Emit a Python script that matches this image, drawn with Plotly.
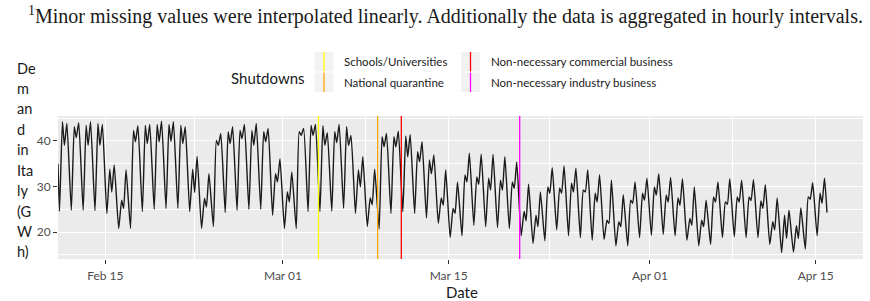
import plotly.graph_objects as go
import pandas as pd

# ---------------- data ----------------
start_date = "2020-02-11"
sample_hours = [3, 9, 13, 18]          # hour of night low, morning peak, midday dip, evening peak
first_value = 35.0                      # 2020-02-11 00:00
last_value = 24.3                       # 2020-04-15 23:00

night_low = [24.6, 24.8, 24.8, 24.7, 24.1, 20.8, 20.8, 24.5, 25.0, 25.2, 25.2, 24.5, 20.8,
             21.2, 24.3, 24.8, 25.0, 25.0, 23.7, 20.8, 20.8, 24.5, 24.5, 24.6, 25.2, 24.1,
             21.2, 20.7, 24.1, 24.5, 24.1, 23.1, 21.9, 18.8, 19.2, 21.5, 21.2, 21.0, 20.8,
             19.2, 17.5, 18.1, 20.5, 19.2, 18.8, 18.2, 18.4, 17.0, 17.0, 18.8, 19.3, 19.5,
             19.2, 18.2, 17.0, 17.3, 18.8, 19.0, 18.8, 18.8, 17.3, 15.5, 15.6, 16.3, 19.2]
morning_peak = [44.2, 43.1, 43.4, 43.8, 33.8, 27.0, 42.3, 43.4, 43.6, 43.6, 43.4, 33.8, 27.4,
                40.1, 42.0, 42.3, 42.3, 42.0, 32.8, 28.8, 42.0, 43.4, 43.3, 42.0, 43.1, 33.6,
                27.5, 40.9, 40.9, 41.1, 37.6, 35.8, 27.5, 25.2, 32.5, 32.1, 31.8, 31.4, 31.0,
                24.5, 23.7, 29.9, 29.7, 30.7, 29.2, 28.5, 22.6, 22.3, 27.0, 28.5, 29.9, 28.1,
                27.5, 23.0, 22.6, 27.7, 26.6, 27.7, 27.7, 26.8, 22.3, 23.7, 21.4, 27.7, 28.5]
midday_dip = [39.0, 40.7, 39.0, 39.0, 28.8, 25.2, 39.8, 39.4, 39.8, 39.9, 39.4, 28.7, 25.5,
              39.0, 39.4, 40.5, 39.0, 39.8, 31.0, 26.6, 41.2, 41.2, 39.0, 39.6, 39.0, 29.9,
              26.0, 38.7, 38.7, 36.5, 35.4, 32.8, 25.9, 24.1, 31.0, 30.5, 29.2, 29.2, 29.6,
              22.5, 21.2, 28.5, 28.5, 28.8, 28.8, 26.6, 21.9, 21.2, 26.3, 27.0, 28.1, 26.6,
              25.9, 21.5, 21.2, 26.6, 26.1, 26.6, 26.9, 25.2, 20.5, 18.6, 18.6, 27.2, 26.3]
evening_peak = [43.8, 44.0, 44.2, 43.6, 34.7, 33.6, 43.3, 43.6, 44.3, 44.2, 43.1, 36.6, 32.8,
                41.6, 43.1, 43.6, 43.8, 42.7, 36.1, 33.2, 42.7, 43.6, 41.8, 43.6, 41.2, 36.5,
                33.8, 41.6, 42.1, 41.4, 39.8, 36.9, 33.6, 31.0, 37.3, 37.1, 37.0, 36.5, 35.4,
                30.5, 28.8, 34.1, 34.5, 34.0, 33.6, 32.6, 31.4, 28.2, 31.0, 31.8, 32.8, 32.0,
                31.7, 29.9, 27.0, 31.0, 31.7, 31.4, 31.5, 30.4, 27.5, 24.8, 25.3, 30.8, 31.8]

shutdown_names = ["Schools/Universities", "National quarantine",
                  "Non-necessary commercial business", "Non-necessary industry business"]
shutdown_dates = ["2020-03-04", "2020-03-09", "2020-03-11", "2020-03-21"]
shutdown_colors = ["#FFFF00", "#FFA500", "#FF0000", "#FF00FF"]

x_tick_vals = ["2020-02-15", "2020-03-01", "2020-03-15", "2020-04-01", "2020-04-15"]
x_tick_text = ["Feb 15", "Mar 01", "Mar 15", "Apr 01", "Apr 15"]
x_minor_vals = ["2020-02-22 12:00", "2020-03-08", "2020-03-23 12:00", "2020-04-08"]
y_tick_vals = [20, 30, 40]
y_minor_vals = [15, 25, 35, 45]
x_range = ["2020-02-11", "2020-04-19"]
y_range = [14.1, 45.45]

y_title_parts = ["De", "m", "an", "d", "in", "Ita", "ly", "(G", "W", "h)"]
x_title = "Date"
legend_title = "Shutdowns"
caption = "<sup>1</sup>Minor missing values were interpolated linearly. Additionally the data is aggregated in hourly intervals."

# ---------------- build hourly-ish series from the read values ----------------
days = pd.date_range(start_date, periods=len(night_low), freq="D")
xs = [pd.Timestamp(start_date)]
ys = [first_value]
for d, vals in zip(days, zip(night_low, morning_peak, midday_dip, evening_peak)):
    for h, v in zip(sample_hours, vals):
        xs.append(d + pd.Timedelta(hours=h))
        ys.append(v)
xs.append(days[-1] + pd.Timedelta(hours=23))
ys.append(last_value)

# ---------------- layout geometry ----------------
W, H = 870, 301
L, R, T, B = 58, 7, 116, 42
PW, PH = W - L - R, H - T - B


def px_x(px):
    return (px - L) / PW


def px_y(py):
    return (H - B - py) / PH


FONT = "Lato"

fig = go.Figure()
fig.add_trace(go.Scatter(x=xs, y=ys, mode="lines",
                         line=dict(color="#1a1a1a", width=1.4, shape="spline", smoothing=0.5),
                         showlegend=False, hoverinfo="skip"))

shapes = []
for d, c in zip(shutdown_dates, shutdown_colors):
    shapes.append(dict(type="line", xref="x", yref="paper", x0=d, x1=d, y0=0, y1=1,
                       line=dict(color=c, width=1.3), layer="above"))

annotations = []
# legend (ggplot style, two columns, column-major)
key_x = [314.5, 461.0]
key_y = [52.0, 72.5]
label_x = [341.5, 488.5]
key_w, key_h = 19.0, 19.5
for i, (name, col) in enumerate(zip(shutdown_names, shutdown_colors)):
    c, r = divmod(i, 2)
    x0, y0 = key_x[c], key_y[r]
    shapes.append(dict(type="rect", xref="paper", yref="paper",
                       x0=px_x(x0), x1=px_x(x0 + key_w), y0=px_y(y0 + key_h), y1=px_y(y0),
                       fillcolor="#F2F2F2", line=dict(width=0), layer="below"))
    shapes.append(dict(type="line", xref="paper", yref="paper",
                       x0=px_x(x0 + key_w / 2), x1=px_x(x0 + key_w / 2),
                       y0=px_y(y0 + key_h), y1=px_y(y0),
                       line=dict(color=col, width=1.3)))
    annotations.append(dict(xref="paper", yref="paper", x=px_x(label_x[c]), y=px_y(y0 + key_h / 2),
                            text=name, showarrow=False, xanchor="left", yanchor="middle",
                            font=dict(family=FONT, size=11.5, color="#1a1a1a")))
annotations.append(dict(xref="paper", yref="paper", x=px_x(229), y=px_y(77.5), text=legend_title,
                        showarrow=False, xanchor="left", yanchor="middle",
                        font=dict(family=FONT, size=15, color="#1a1a1a")))

# wrapped y-axis title
for i, part in enumerate(y_title_parts):
    annotations.append(dict(xref="paper", yref="paper", x=px_x(15), y=px_y(68 + i * 20.44),
                            text=part, showarrow=False, xanchor="left", yanchor="middle",
                            font=dict(family=FONT, size=14.5, color="#1a1a1a")))

# x-axis title
annotations.append(dict(xref="paper", yref="paper", x=px_x(462), y=px_y(292), text=x_title,
                        showarrow=False, xanchor="center", yanchor="middle",
                        font=dict(family=FONT, size=15, color="#1a1a1a")))

# caption
annotations.append(dict(xref="paper", yref="paper", x=px_x(26), y=px_y(15.5), text=caption,
                        showarrow=False, xanchor="left", yanchor="middle",
                        font=dict(family="Liberation Serif", size=20, color="#1a1a1a")))

fig.update_layout(
    width=W, height=H, margin=dict(l=L, r=R, t=T, b=B, pad=0, autoexpand=False),
    paper_bgcolor="white", plot_bgcolor="#EBEBEB",
    shapes=shapes, annotations=annotations, showlegend=False,
    xaxis=dict(type="date", range=x_range, tickmode="array", tickvals=x_tick_vals,
               ticktext=x_tick_text, ticks="outside", ticklen=4, tickwidth=1.1, tickcolor="#333333",
               ticklabelstandoff=2, automargin=False,
               tickfont=dict(family=FONT, size=12, color="#4D4D4D"),
               showgrid=True, gridcolor="white", gridwidth=1.3, zeroline=False, showline=False,
               minor=dict(tickmode="array", tickvals=x_minor_vals, showgrid=True,
                          gridcolor="white", gridwidth=0.7, ticks="")),
    yaxis=dict(range=y_range, tickmode="array", tickvals=y_tick_vals, automargin=False,
               ticks="outside", ticklen=4, tickwidth=1.1, tickcolor="#333333",
               tickfont=dict(family=FONT, size=12, color="#4D4D4D"),
               showgrid=True, gridcolor="white", gridwidth=1.3, zeroline=False, showline=False,
               minor=dict(tickmode="array", tickvals=y_minor_vals, showgrid=True,
                          gridcolor="white", gridwidth=0.7, ticks="")),
)

fig.write_html("out.html", config={"displayModeBar": False},
               post_script="document.body.style.margin='0';document.body.style.overflow='hidden';")
